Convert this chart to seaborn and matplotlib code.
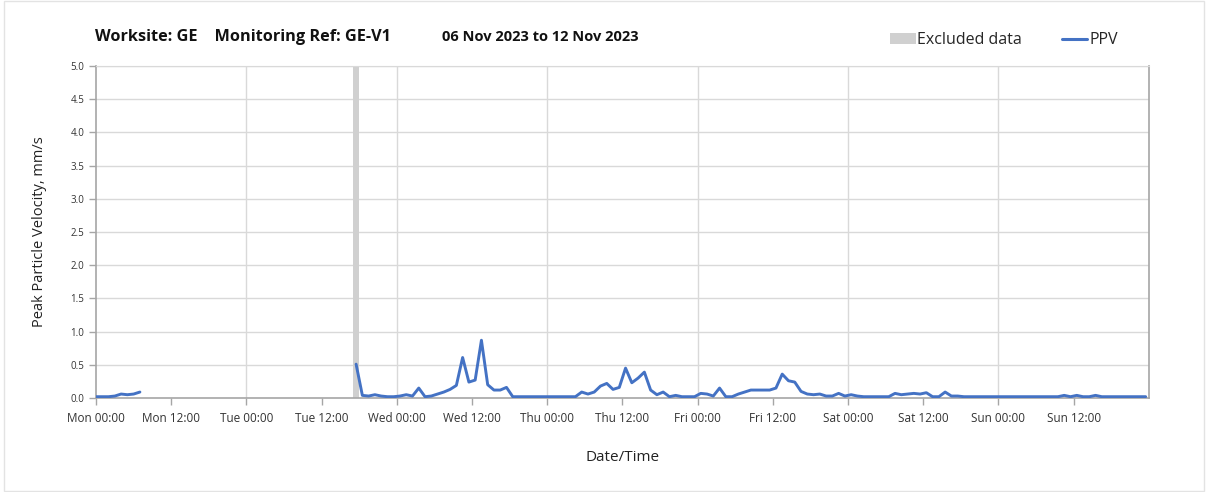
import matplotlib
matplotlib.use("Agg")
import matplotlib.pyplot as plt
import pandas as pd
import seaborn as sns
from matplotlib.lines import Line2D
from matplotlib.patches import Patch, Rectangle


TITLE_SITE = "Worksite: GE    Monitoring Ref: GE-V1"
TITLE_DATES = "06 Nov 2023 to 12 Nov 2023"
LINE_COLOR = "#4472C4"
EXCLUDED_COLOR = "#D0D0D0"

# hours since Mon 06 Nov 00:00
MON_HOURS = [0, 1, 2, 3, 4, 5, 6, 7]
MON_PPV = [0.02, 0.02, 0.02, 0.03, 0.06, 0.05, 0.06, 0.09]

EXCLUDED_START = 41.0
EXCLUDED_END = 42.0

MAIN_START = 41.5
MAIN_PPV = [
    0.51, 0.04, 0.03, 0.05, 0.03, 0.02, 0.02, 0.03, 0.05, 0.03,
    0.15, 0.02, 0.03, 0.06, 0.09, 0.13, 0.19, 0.61, 0.24, 0.27,
    0.87, 0.20, 0.12, 0.12, 0.16, 0.02, 0.02, 0.02, 0.02, 0.02,
    0.02, 0.02, 0.02, 0.02, 0.02, 0.02, 0.09, 0.06, 0.09, 0.18,
    0.22, 0.13, 0.16, 0.45, 0.23, 0.30, 0.39, 0.12, 0.05, 0.09,
    0.02, 0.04, 0.02, 0.02, 0.02, 0.07, 0.06, 0.03, 0.15, 0.02,
    0.02, 0.06, 0.09, 0.12, 0.12, 0.12, 0.12, 0.15, 0.36, 0.26,
    0.24, 0.10, 0.06, 0.05, 0.06, 0.03, 0.03, 0.07, 0.03, 0.05,
    0.03, 0.02, 0.02, 0.02, 0.02, 0.02, 0.07, 0.05, 0.06, 0.07,
    0.06, 0.08, 0.02, 0.02, 0.09, 0.03, 0.03, 0.02, 0.02, 0.02,
    0.02, 0.02, 0.02, 0.02, 0.02, 0.02, 0.02, 0.02, 0.02, 0.02,
    0.02, 0.02, 0.02, 0.04, 0.02, 0.04, 0.02, 0.02, 0.04, 0.02,
    0.02, 0.02, 0.02, 0.02, 0.02, 0.02, 0.02,
]

X_TICKS = [0, 12, 24, 36, 48, 60, 72, 84, 96, 108, 120, 132, 144, 156]
X_TICK_LABELS = [
    "Mon 00:00", "Mon 12:00", "Tue 00:00", "Tue 12:00", "Wed 00:00", "Wed 12:00",
    "Thu 00:00", "Thu 12:00", "Fri 00:00", "Fri 12:00", "Sat 00:00", "Sat 12:00",
    "Sun 00:00", "Sun 12:00",
]
Y_TICKS = [0.0, 0.5, 1.0, 1.5, 2.0, 2.5, 3.0, 3.5, 4.0, 4.5, 5.0]


def build_frame() -> pd.DataFrame:
    mon = pd.DataFrame({"hours": MON_HOURS, "ppv": MON_PPV, "segment": 0})
    main = pd.DataFrame({
        "hours": [MAIN_START + i for i in range(len(MAIN_PPV))],
        "ppv": MAIN_PPV,
        "segment": 1,
    })
    return pd.concat([mon, main], ignore_index=True)


def main() -> None:
    sns.set_style("white")
    plt.rcParams["font.family"] = ["Open Sans", "DejaVu Sans"]

    df = build_frame()

    fig = plt.figure(figsize=(12.08, 4.92), dpi=100)
    fig.patches.append(Rectangle((0.003, 0.003), 0.994, 0.994, transform=fig.transFigure,
                                 fill=False, edgecolor="#E3E3E3", linewidth=1))
    ax = fig.add_axes([0.0795, 0.191, 0.8715, 0.675])

    for y in Y_TICKS[1:]:
        ax.axhline(y, color="#D9D9D9", linewidth=1, zorder=0)
    for x in X_TICKS[2::2]:
        ax.axvline(x, color="#D9D9D9", linewidth=1, zorder=0)

    ax.axvspan(EXCLUDED_START, EXCLUDED_END, color=EXCLUDED_COLOR, linewidth=0, zorder=1)

    sns.lineplot(data=df, x="hours", y="ppv", units="segment", estimator=None,
                 color=LINE_COLOR, linewidth=2.1, ax=ax, zorder=3)

    ax.set_xlim(0, 168)
    ax.set_ylim(0, 5)
    ax.set_xticks(X_TICKS)
    ax.set_xticklabels(X_TICK_LABELS, fontsize=8.5, color="#333333")
    ax.set_yticks(Y_TICKS)
    ax.set_yticklabels([f"{v:.1f}" for v in Y_TICKS], fontsize=7, color="#333333")
    ax.tick_params(axis="both", direction="out", length=5, width=1, color="#A6A6A6",
                   bottom=True, left=True)
    ax.tick_params(axis="x", pad=5)

    for side in ["left", "bottom", "right"]:
        ax.spines[side].set_color("#A6A6A6")
        ax.spines[side].set_linewidth(1.2)
    ax.spines["top"].set_color("#D9D9D9")

    ax.set_xlabel("Date/Time", fontsize=11, color="#222222", labelpad=18)
    ax.set_ylabel("Peak Particle Velocity, mm/s", fontsize=10.5, color="#222222", labelpad=17)

    fig.text(0.079, 0.925, TITLE_SITE, fontsize=11.7, fontweight="bold", color="#111111",
             va="center", ha="left")
    fig.text(0.366, 0.925, TITLE_DATES, fontsize=10.5, fontweight="bold", color="#111111",
             va="center", ha="left")

    handles = [
        Patch(facecolor=EXCLUDED_COLOR, edgecolor="none"),
        Line2D([0], [0], color=LINE_COLOR, linewidth=2.2),
    ]
    fig.legend(handles, ["Excluded data", "PPV"], loc="center right",
               bbox_to_anchor=(0.937, 0.918), ncol=2, frameon=False, fontsize=11.5,
               handlelength=1.6, handletextpad=0.1, columnspacing=2.5)

    fig.savefig("out.png", dpi=100)
    plt.close(fig)


if __name__ == "__main__":
    main()
